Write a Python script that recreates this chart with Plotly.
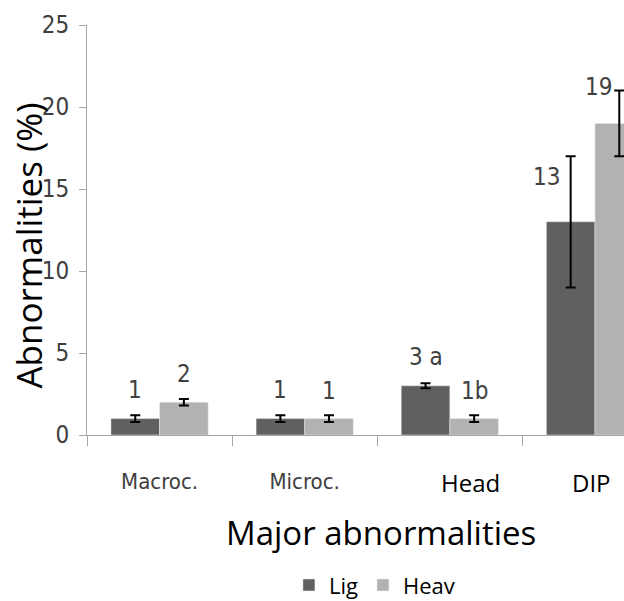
import plotly.graph_objects as go

categories = ["Macroc.", "Microc.", "Head", "DIP"]
light_vals = [1, 1, 3, 13]
heavy_vals = [2, 1, 1, 19]
light_err = [0.2, 0.2, 0.15, 4]
heavy_err = [0.2, 0.2, 0.2, 2]
light_labels = ["1", "1", "3 a", "13"]
heavy_labels = ["2", "1", "1b", "19"]
series_names = ["Lig", "Heav"]
y_ticks = [0, 5, 10, 15, 20, 25]

NARROW = "Liberation Sans Narrow, DejaVu Sans Condensed, Arial Narrow, sans-serif"
SANS = "Open Sans, Noto Sans, sans-serif"
DARK = "#606060"
LIGHT = "#b2b2b2"
AXIS = "#a6a6a6"

fig = go.Figure()
fig.add_trace(go.Bar(
    x=categories, y=light_vals, name=series_names[0], marker_color=DARK,
    error_y=dict(type="data", array=light_err, color="black", thickness=2, width=5),
))
fig.add_trace(go.Bar(
    x=categories, y=heavy_vals, name=series_names[1], marker_color=LIGHT,
    error_y=dict(type="data", array=heavy_err, color="black", thickness=2, width=5),
))

bargap = 0.33
off = (1 - bargap) / 4

annotations = []
for i, (lv, hv, ll, hl) in enumerate(zip(light_vals, heavy_vals, light_labels, heavy_labels)):
    if i == 3:
        l_xs, l_ys, h_xs, h_ys = -24, 45, -21, 36
    else:
        l_xs, l_ys, h_xs, h_ys = 0, 29, 0, 28
    annotations.append(dict(x=i - off, y=lv, xref="x", yref="y", text=ll, showarrow=False,
                            xshift=l_xs, yshift=l_ys, font=dict(family=NARROW, size=24, color="#404040")))
    annotations.append(dict(x=i + off, y=hv, xref="x", yref="y", text=hl, showarrow=False,
                            xshift=h_xs, yshift=h_ys, font=dict(family=NARROW, size=24, color="#404040")))

# category labels drawn in a different font for Head / DIP
annotations.append(dict(x=2, y=0, xref="x", yref="y", text=categories[2], showarrow=False,
                        xshift=21, yshift=-47, font=dict(family=SANS, size=24, color="black")))
annotations.append(dict(x=3, y=0, xref="x", yref="y", text=categories[3], showarrow=False,
                        xshift=-3, yshift=-47, font=dict(family=SANS, size=24, color="black")))

# axis titles
annotations.append(dict(x=0.5475, y=-0.2366, xref="paper", yref="paper", text="Major abnormalities",
                        showarrow=False, xanchor="center", yanchor="middle",
                        font=dict(family=SANS, size=33, color="black")))
annotations.append(dict(x=-0.108, y=0.462, xref="paper", yref="paper", text="Abnormalities (%)",
                        showarrow=False, xanchor="center", yanchor="middle", textangle=-90,
                        font=dict(family=SANS, size=35, color="black")))

fig.update_layout(
    width=624, height=601,
    margin=dict(l=87, r=0, t=25, b=166, autoexpand=False),
    plot_bgcolor="white", paper_bgcolor="white",
    barmode="group", bargap=bargap, bargroupgap=0,
    showlegend=True,
    legend=dict(orientation="h", x=0.376, y=-0.315, xanchor="left", yanchor="top",
                font=dict(family=SANS, size=22, color="black"), bgcolor="rgba(0,0,0,0)"),
    annotations=annotations,
)
fig.update_xaxes(
    type="category", range=[-0.5, 3.2], tickson="boundaries", ticks="outside", ticklen=10,
    tickcolor=AXIS, showline=True, linecolor=AXIS, linewidth=1, showgrid=False,
    tickvals=categories, ticktext=[categories[0], categories[1], "", ""], automargin=False,
    tickfont=dict(family=NARROW, size=22, color="#404040"), ticklabelstandoff=27,
)
fig.update_yaxes(
    range=[0, 25], tickvals=y_ticks, ticks="outside", ticklen=7, tickcolor=AXIS,
    showline=True, linecolor=AXIS, linewidth=1, showgrid=False, zeroline=False, automargin=False,
    tickfont=dict(family=NARROW, size=24, color="#404040"), ticklabelstandoff=5,
)

fig.write_html("out.html", config={"displayModeBar": False},
               post_script="document.body.style.margin='0';document.body.style.overflow='hidden';")
